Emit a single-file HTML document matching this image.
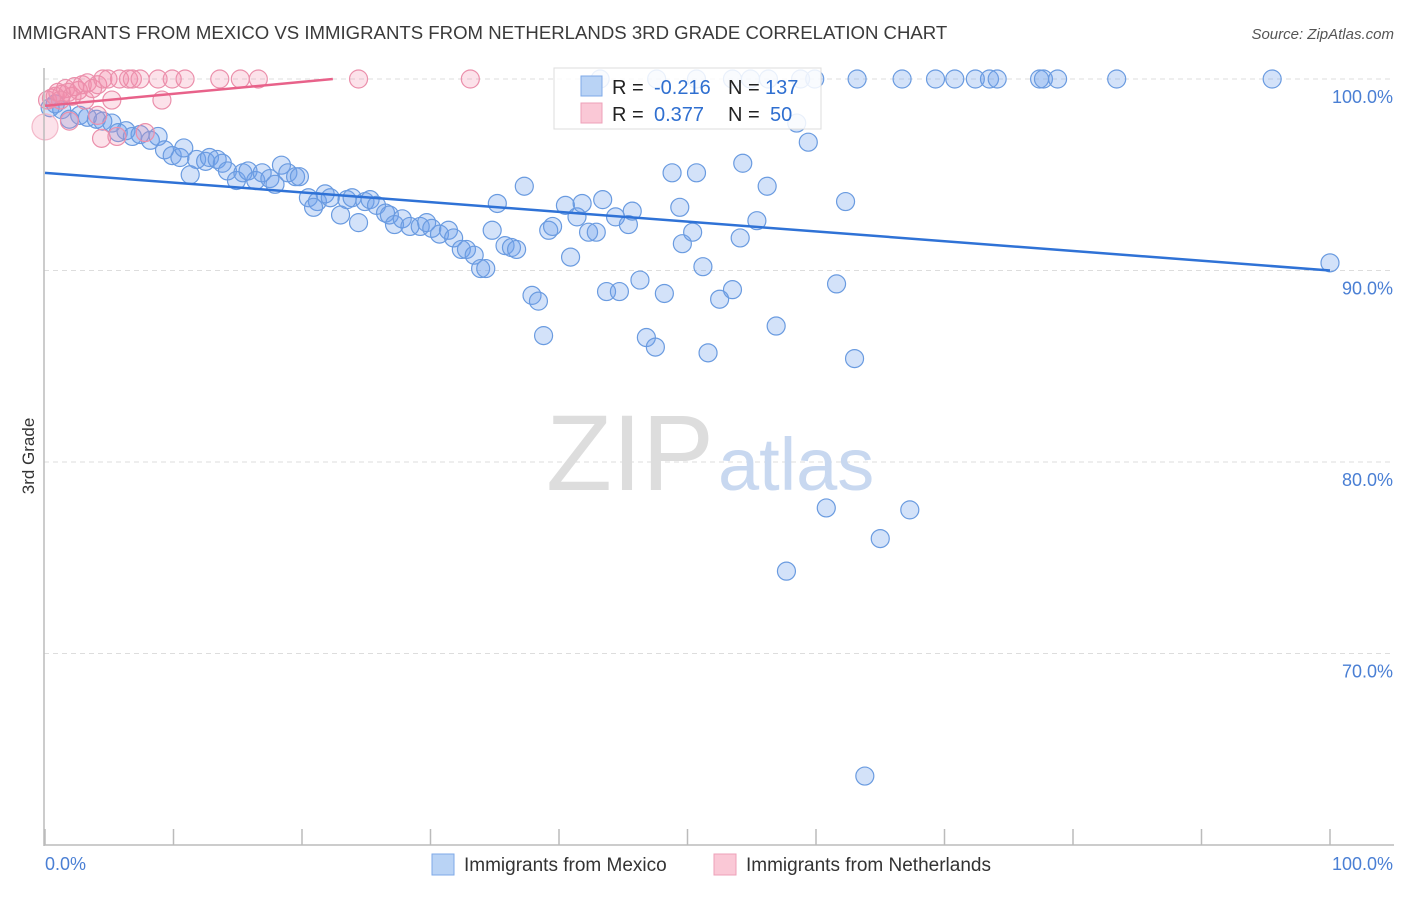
<!DOCTYPE html>
<html><head><meta charset="utf-8"><style>
body{margin:0;background:#fff;font-family:"Liberation Sans",sans-serif;}
svg text{font-family:"Liberation Sans",sans-serif;}
</style></head><body>
<svg id="chart" width="1406" height="892" xmlns="http://www.w3.org/2000/svg">
<text x="12" y="39" font-size="18.6" fill="#3a3a3a">IMMIGRANTS FROM MEXICO VS IMMIGRANTS FROM NETHERLANDS 3RD GRADE CORRELATION CHART</text>
<text x="1394" y="39" font-size="15" fill="#555" text-anchor="end" font-style="italic">Source: ZipAtlas.com</text>
<text transform="translate(34,456) rotate(-90)" font-size="17" fill="#333" text-anchor="middle">3rd Grade</text>
<g id="grid"></g>
<text x="714" y="490" font-size="108" text-anchor="end" fill="#ddd" font-family="Liberation Serif">ZIP</text>
<text x="718" y="490" font-size="74" fill="#c8d8f0">atlas</text>
<g id="pts"></g>
<g id="trends"></g>
<line x1="44" y1="68" x2="44" y2="846" stroke="#bbb" stroke-width="1.5"/>
<line x1="44" y1="845" x2="1394" y2="845" stroke="#bbb" stroke-width="1.5"/>
<g id="ticks"></g>
<text x="45" y="870" font-size="18" fill="#4a7fd4">0.0%</text>
<text x="1393" y="870" font-size="18" fill="#4a7fd4" text-anchor="end">100.0%</text>
<g>
<rect x="554" y="68" width="267" height="61" fill="#fff" fill-opacity="0.85" stroke="#ddd"/>
<rect x="581" y="76" width="21" height="20" fill="#b9d3f5" stroke="#7ea9e8"/>
<rect x="581" y="103" width="21" height="20" fill="#fac8d6" stroke="#eea0b8"/>
<text x="612" y="94" font-size="20" fill="#222">R =</text>
<text x="654" y="94" font-size="20" fill="#2f6fd0">-0.216</text>
<text x="728" y="94" font-size="20" fill="#222">N =</text>
<text x="765" y="94" font-size="20" fill="#2f6fd0">137</text>
<text x="612" y="121" font-size="20" fill="#222">R =</text>
<text x="654" y="121" font-size="20" fill="#2f6fd0">0.377</text>
<text x="728" y="121" font-size="20" fill="#222">N =</text>
<text x="770" y="121" font-size="20" fill="#2f6fd0">50</text>
</g>
<g><rect x="432" y="854" width="22" height="21" fill="#b9d3f5" stroke="#7ea9e8"/><text x="464" y="871" font-size="19" fill="#333">Immigrants from Mexico</text></g>
<g><rect x="714" y="854" width="22" height="21" fill="#fac8d6" stroke="#eea0b8"/><text x="746" y="871" font-size="19" fill="#333">Immigrants from Netherlands</text></g>
</svg>
<script>
const mexX=[0.4,0.8,1.3,1.9,2.7,3.3,4.0,4.5,5.2,5.7,6.3,6.8,7.4,8.2,8.8,9.3,9.9,10.5,10.8,11.3,11.8,12.5,12.8,13.4,13.8,14.2,14.9,15.4,15.8,16.4,16.9,17.5,17.9,18.4,18.9,19.5,19.8,20.5,21.2,20.9,21.8,22.2,23.0,23.5,23.9,24.4,24.9,25.3,25.8,26.5,26.8,27.2,27.8,28.4,29.2,29.7,30.1,30.7,31.4,31.8,32.4,32.8,33.4,33.9,34.3,34.8,35.2,35.8,36.3,36.7,37.3,37.9,38.4,38.8,39.2,39.5,40.5,40.9,41.4,41.8,42.3,42.9,43.4,43.7,44.4,44.7,45.4,45.7,46.3,46.8,47.5,48.2,48.8,49.4,49.6,50.4,50.7,51.2,51.6,52.5,53.5,54.1,54.3,55.4,56.2,56.9,58.5,59.4,61.6,62.3,63.0,60.8,65.0,67.3,57.7,63.8,100.0,47.6,50.7,53.5,54.9,56.3,58.8,59.9,63.2,66.7,69.3,70.8,72.4,73.5,74.1,77.4,77.7,78.8,83.4,95.5,43.2];
const mexY=[98.5,98.7,98.4,97.9,98.1,98.0,97.9,97.8,97.7,97.2,97.3,97.0,97.1,96.8,97.0,96.3,96.0,95.9,96.4,95.0,95.8,95.7,95.9,95.8,95.6,95.2,94.7,95.1,95.2,94.7,95.1,94.8,94.5,95.5,95.1,94.9,94.9,93.8,93.6,93.3,94.0,93.8,92.9,93.7,93.8,92.5,93.6,93.7,93.4,93.0,92.9,92.4,92.7,92.3,92.3,92.5,92.2,91.9,92.1,91.7,91.1,91.1,90.8,90.1,90.1,92.1,93.5,91.3,91.2,91.1,94.4,88.7,88.4,86.6,92.1,92.3,93.4,90.7,92.8,93.5,92.0,92.0,93.7,88.9,92.8,88.9,92.4,93.1,89.5,86.5,86.0,88.8,95.1,93.3,91.4,92.0,95.1,90.2,85.7,88.5,89.0,91.7,95.6,92.6,94.4,87.1,97.7,96.7,89.3,93.6,85.4,77.6,76.0,77.5,74.3,63.6,90.4,100,100,100,100,100,100,100,100,100,100,100,100,100,100,100,100,100,100,100,100];
const nedX=[0,0.2,0.5,0.8,1.0,1.3,1.6,1.8,2.1,2.3,2.6,2.9,3.3,3.7,4.1,4.5,4.9,5.2,5.8,6.5,6.8,7.4,8.8,9.1,9.9,10.9,13.6,15.2,16.6,24.4,33.1,1.9,4.4,5.6,7.8,4.1,1.2,3.1];
const nedY=[97.5,98.9,99.0,99.1,99.3,99.2,99.5,99.3,99.1,99.6,99.4,99.7,99.8,99.5,99.7,100,100,98.9,100,100,100,100,100,98.9,100,100,100,100,100,100,100,97.8,96.9,97.0,97.2,98.1,98.9,98.9];
const mexTrend=[95.1,90.0];
const nedTrend=[98.6,100.0,22.4];
const yTicks=[100,90,80,70];
const xTickVals=[0,10,20,30,40,50,60,70,80,90,100];
const NS='http://www.w3.org/2000/svg';
const sx=v=>45+v*12.85, sy=v=>79+(100-v)*19.15;
function mk(t,a,p){const e=document.createElementNS(NS,t);for(const k in a)e.setAttribute(k,a[k]);p.appendChild(e);return e;}
const grid=document.getElementById('grid');
yTicks.forEach(v=>{
 const l=mk('line',{x1:44,x2:1394,y1:sy(v),y2:sy(v),stroke:'#ddd','stroke-dasharray':'5,4'},grid);
 
 
 const t=mk('text',{x:1393,y:sy(v)+24,'font-size':18,fill:'#4a7fd4','text-anchor':'end'},grid);
 t.textContent=v.toFixed(1)+'%';
 
 
});
const tk=document.getElementById('ticks');
xTickVals.forEach(v=>{
 const l=mk('line',{x1:sx(v),x2:sx(v),y1:829,y2:845,stroke:'#bbb','stroke-width':1.5},tk);
 
 
});
const pts=document.getElementById('pts');
mexX.forEach((x,i)=>{
 const c=mk('circle',{cx:sx(x),cy:sy(mexY[i]),r:9,fill:'rgba(110,160,235,0.3)',stroke:'#6a9be0','stroke-width':1.2},pts);
 
 
});
nedX.forEach((x,i)=>{
 const c=mk('circle',{cx:sx(x),cy:sy(nedY[i]),r:i==0?13:9,fill:'rgba(245,140,170,0.25)',stroke:i==0?'#f3b8c9':'#eb8fab','stroke-width':1.2},pts);
 
 
});
const tr=document.getElementById('trends');
const l1=mk('line',{x1:sx(0),y1:sy(mexTrend[0]),x2:sx(100),y2:sy(mexTrend[1]),stroke:'#2f72d6','stroke-width':2.5},tr);


const l2=mk('line',{x1:sx(0),y1:sy(nedTrend[0]),x2:sx(nedTrend[2]),y2:sy(nedTrend[1]),stroke:'#e8628a','stroke-width':2.5},tr);


</script>
</body></html>
